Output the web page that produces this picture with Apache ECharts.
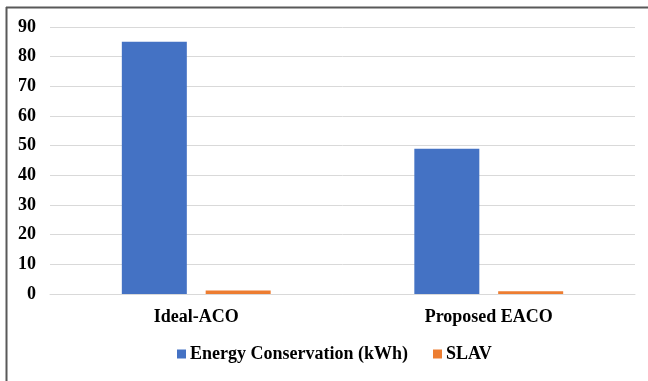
<!DOCTYPE html>
<html>
<head>
<meta charset="utf-8">
<script src="https://cdn.jsdelivr.net/npm/echarts@6/dist/echarts.min.js"></script>
<style>
  html, body { margin: 0; padding: 0; background: #ffffff; }
  #chart { width: 648px; height: 381px; }
</style>
</head>
<body>
<div id="chart"></div>
<script>
// Algorithms compared
const categories = ['Ideal-ACO', 'Proposed EACO'];
// Energy conservation per algorithm (kWh)
const energyConservation = [85, 49];
// SLA violation per algorithm
const slav = [1.2, 0.9];
// Value axis ticks
const yTicks = [0, 10, 20, 30, 40, 50, 60, 70, 80, 90];

const serif = 'Liberation Serif';
const chart = echarts.init(document.getElementById('chart'));

chart.setOption({
  backgroundColor: '#ffffff',
  animation: false,
  textStyle: { fontFamily: serif },
  graphic: [
    // Frame around the chart (top and left edges)
    { type: 'line', shape: { x1: 6, y1: 7.5, x2: 648, y2: 7.5 }, style: { stroke: '#595959', lineWidth: 2 } },
    { type: 'line', shape: { x1: 6.5, y1: 7, x2: 6.5, y2: 381 }, style: { stroke: '#595959', lineWidth: 2 } }
  ],
  grid: { left: 50, right: 13, top: 27, bottom: 87, containLabel: false },
  legend: {
    data: ['Energy Conservation (kWh)', 'SLAV'],
    top: 345,
    left: 177,
    padding: 0,
    itemWidth: 9,
    itemHeight: 9,
    itemGap: 25,
    icon: 'rect',
    textStyle: { fontFamily: serif, fontWeight: 'bold', fontSize: 18, color: '#000', padding: [0, 0, 0, -1] }
  },
  xAxis: {
    type: 'category',
    data: categories,
    axisLine: { lineStyle: { color: '#d9d9d9', width: 1 } },
    axisTick: { show: false },
    axisLabel: { fontFamily: serif, fontWeight: 'bold', fontSize: 18, color: '#000', margin: 14 }
  },
  yAxis: {
    type: 'value',
    min: yTicks[0],
    max: yTicks[yTicks.length - 1],
    interval: yTicks[1] - yTicks[0],
    axisLine: { show: false },
    axisTick: { show: false },
    splitLine: { lineStyle: { color: '#d9d9d9', width: 1 } },
    axisLabel: { fontFamily: serif, fontWeight: 'bold', fontSize: 18, color: '#000', margin: 14 }
  },
  series: [
    {
      name: 'Energy Conservation (kWh)',
      type: 'bar',
      data: energyConservation,
      barWidth: 65,
      barGap: '29%',
      itemStyle: { color: '#4472C4' }
    },
    {
      name: 'SLAV',
      type: 'bar',
      data: slav,
      barWidth: 65,
      itemStyle: { color: '#ED7D31' }
    }
  ]
});
</script>
</body>
</html>
